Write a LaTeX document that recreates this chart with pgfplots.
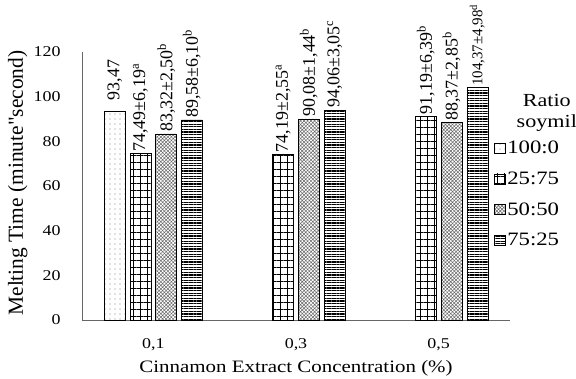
\documentclass[border=0pt]{standalone}
\usepackage{pgfplots}
\pgfplotsset{compat=1.18}
\usetikzlibrary{patterns.meta}
\usepackage{fontspec}
\setmainfont[FakeStretch=1.2]{Liberation Serif}
\newfontfamily\rotfont{Liberation Serif}
\begin{document}
\begin{tikzpicture}
\begin{axis}[
  scale only axis, width=428bp, height=268bp,
  xmin=-0.5, xmax=2.5, ymin=0, ymax=120,
  axis x line*=bottom, axis y line*=left,
  axis line style={draw=gray!80!black, line width=0.9pt, -},
  xtick={0,1,2}, xticklabels={{0,1},{0,3},{0,5}},
  ytick={0,20,...,120},
  major tick length=0pt,
  tick label style={font=\fontsize{15}{15}\selectfont},
  /pgf/number format/assume math mode=true,
  yticklabel style={xshift=-18bp},
  xticklabel style={yshift=-15bp},
  ybar=4.7bp, bar width=21bp,
  clip=false,
  point meta=explicit symbolic,
  nodes near coords,
  every node near coord/.append style={rotate=90, anchor=west, font=\rotfont\fontsize{18}{18}\selectfont, inner sep=2pt},
  xlabel={Cinnamon Extract Concentration (\%)},
  ylabel={Melting Time (minute"second)},
  xlabel style={at={(axis description cs:0.5,-0.18)}, anchor=center, font=\fontsize{17.5}{17.5}\selectfont},
  ylabel style={at={(axis description cs:-0.15,0.511)}, anchor=center, font=\rotfont\fontsize{21.5}{21.5}\selectfont},
  legend style={at={(axis description cs:0.955,0.682)}, anchor=north west, draw=none, fill=none, font=\fontsize{19}{19}\selectfont, row sep=12.5bp, /tikz/every even column/.append style={column sep=2bp}},
  legend cell align=left,
  mylegend/.style={legend image code/.code={\draw[##1, draw=black, line width=0.4pt] (0bp,-5bp) rectangle (11bp,5bp);}},
]
\addplot[mylegend, draw=black, line width=0.4pt, pattern={Dots[distance=5bp, radius=0.7bp]}, pattern color=gray, every node near coord/.append style={xshift=9bp}] coordinates {(0,93.47) [{93,47}]};
\addplot[mylegend, draw=black, line width=0.4pt, pattern={Hatch[distance=7bp, angle=0, line width=0.9bp]}, pattern color=black] coordinates {(0,74.49) [{74,49±6,19\textsuperscript{a}}] (1,74.19) [{74,19±2,55\textsuperscript{a}}] (2,91.19) [{91,19±6,39\textsuperscript{b}}]};
\addplot[mylegend, draw=black, line width=0.4pt, pattern={Hatch[distance=2.5bp, angle=45, line width=0.5bp]}, pattern color=gray!80!black] coordinates {(0,83.32) [{83,32±2,50\textsuperscript{b}}] (1,90.08) [{90,08±1,44\textsuperscript{b}}] (2,88.37) [{88,37±2,85\textsuperscript{b}}]};
\addplot[mylegend, draw=black, line width=0.4pt, pattern={Lines[distance=2.6bp, angle=0, line width=1.1bp]}, pattern color=black] coordinates {(0,89.58) [{89,58±6,10\textsuperscript{b}}] (1,94.06) [{94,06±3,05\textsuperscript{c}}]};
\addplot[forget plot, bar shift=38.55bp, draw=black, line width=0.4pt, pattern={Lines[distance=2.6bp, angle=0, line width=1.1bp]}, pattern color=black, every node near coord/.append style={font=\rotfont\fontsize{15}{15}\selectfont, inner sep=1pt}] coordinates {(2,104.37) [{104,37±4,98\textsuperscript{d}}]};
\legend{100:0,25:75,50:50,75:25}
\node[font=\fontsize{18.5}{21}\selectfont, align=center] at (axis description cs:1.086,0.772) {Ratio\\soymil};
\end{axis}
\pgfresetboundingbox
\path[use as bounding box] (-82bp,-59bp) rectangle (494bp,320bp);
\end{tikzpicture}
\end{document}
